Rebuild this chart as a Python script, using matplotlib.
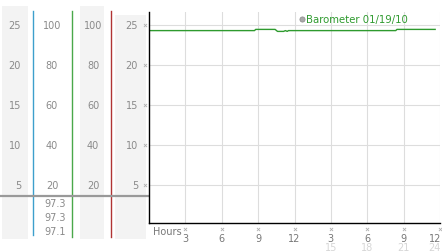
import matplotlib
matplotlib.use("Agg")
import matplotlib.pyplot as plt
from matplotlib.transforms import offset_copy

# -------- data ----------
hours = [0, 8.7, 8.8, 10.4, 10.6, 11.1, 11.25, 11.4, 11.5, 20.35, 20.45, 23.6]
pressure = [24.3, 24.3, 24.45, 24.45, 24.2, 24.2, 24.3, 24.2, 24.3, 24.3, 24.45, 24.45]
series_label = "Barometer 01/19/10"

y_ticks = [5, 10, 15, 20, 25]
col2_labels = ["20", "40", "60", "80", "100"]
col3_labels = ["20", "40", "60", "80", "100"]
current_vals = ["97.3", "97.3", "97.1"]

x_ticks = [3, 6, 9, 12, 15, 18, 21, 24]
x_labels = ["3", "6", "9", "12", "3", "6", "9", "12"]
x_labels2 = ["", "", "", "", "15", "18", "21", "24"]

GRAY_TXT = "#8a8a8a"
BG = "#f3f3f3"
FS = 7

# pixel layout: value v sits at pixel row 226 - 8*v
W, H = 442, 253
fig = plt.figure(figsize=(W / 100, H / 100), dpi=100)

# -------- left panel ----------
lp = fig.add_axes([0, 0, 149 / W, 1])
lp.set_xlim(0, 149)
lp.set_ylim((226 - H) / 8, 226 / 8)
lp.axis("off")

def v(px):
    return (226 - px) / 8

for x0, x1, top in [(2, 28, 7), (80, 104, 7), (115, 146, 16)]:
    lp.fill_between([x0, x1], v(240), v(top), color=BG, lw=0)

lp.plot([33, 33], [v(12), v(236)], color="#3d9fcc", lw=1)
lp.plot([72, 72], [v(12), v(238)], color="#4aa84a", lw=1)
lp.plot([111, 111], [v(12), v(238)], color="#b03434", lw=1)
lp.plot([0, 149], [v(197), v(197)], color="#999999", lw=1.6)

for i, t in enumerate(y_ticks):
    lp.text(21, t, str(t), ha="right", va="center", fontsize=FS, color=GRAY_TXT)
    lp.text(52, t, col2_labels[i], ha="center", va="center", fontsize=FS, color=GRAY_TXT)
    lp.text(93, t, col3_labels[i], ha="center", va="center", fontsize=FS, color=GRAY_TXT)
    lp.text(138, t, str(t), ha="right", va="center", fontsize=FS, color=GRAY_TXT)
lp.scatter([145] * len(y_ticks), y_ticks, marker="x", s=5, lw=0.6, color="#b0b0b0")

for i, s in enumerate(current_vals):
    lp.text(55, v(204 + 14 * i), s, ha="center", va="center", fontsize=FS, color=GRAY_TXT)

# -------- main chart ----------
ax = fig.add_axes([149 / W, 1 - 224 / H, 291 / W, 211 / H])
ax.set_xlim(0, 24)
ax.set_ylim(v(224), v(13))
for t in x_ticks:
    ax.axvline(t, color="#dddddd", lw=0.8, zorder=0)
for t in y_ticks:
    ax.axhline(t, color="#dddddd", lw=0.8, zorder=0)
ax.plot(hours, pressure, color="#2e9a2e", lw=1.0)

ax.spines[["top", "right"]].set_visible(False)
ax.spines["left"].set_linewidth(1.0)
ax.spines["bottom"].set_linewidth(1.0)
ax.set_xticks([])
ax.set_yticks([])

xtr = ax.get_xaxis_transform()
ax.scatter(x_ticks, [0] * len(x_ticks), marker="x", s=5, lw=0.6, color="#b0b0b0",
           transform=offset_copy(xtr, fig=fig, y=-5.5, units="dots"), clip_on=False)
for i, (t, a, b) in enumerate(zip(x_ticks, x_labels, x_labels2)):
    last = i == len(x_ticks) - 1
    ha = "right" if last else "center"
    dx = 1 if last else 0
    ax.text(t, 0, a, ha=ha, va="center", fontsize=FS, color="#777777",
            transform=offset_copy(xtr, fig=fig, x=dx, y=-15, units="dots"))
    if b:
        ax.text(t, 0, b, ha=ha, va="center", fontsize=FS, color="#d6d6d6",
                transform=offset_copy(xtr, fig=fig, x=dx, y=-24, units="dots"))
ax.text(4 / 291, 0, "Hours", ha="left", va="center", fontsize=FS, color="#777777",
        transform=offset_copy(ax.transAxes, fig=fig, y=-8, units="dots"))

# legend
ax.scatter([12.62], [v(20)], s=14, color="#aaaaaa", edgecolor="#888888", lw=0.5, clip_on=False)
ax.text(12.95, v(20), series_label, ha="left", va="center", fontsize=FS + 0.3, color="#2e9a2e")

fig.savefig("out.png", dpi=100)
